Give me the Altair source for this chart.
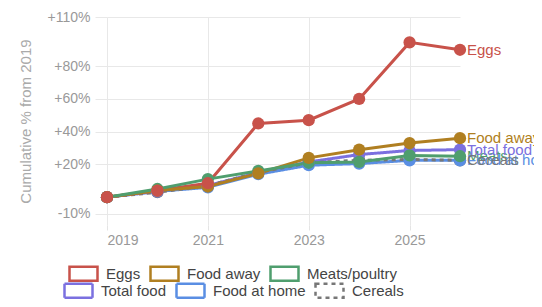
import altair as alt
import pandas as pd

years = [2019, 2020, 2021, 2022, 2023, 2024, 2025, 2026]
series = ["Eggs", "Food away", "Meats/poultry", "Total food", "Food at home", "Cereals"]
labels = ["Eggs", "Food away", "Meats", "Total food", "Food at home", "Cereals"]
colors = ["#c8524a", "#b07f21", "#4f9e6e", "#7b70e0", "#5a8ee3", "#777777"]
dashes = [[1, 0], [1, 0], [1, 0], [1, 0], [1, 0], [4, 4]]

eggs = [0, 4, 8.5, 45, 47, 60, 94.5, 90]
food_away = [0, 4, 6.5, 14.5, 24, 29, 33, 36]
meats = [0, 5, 11, 16, 21, 21.5, 25.5, 25]
total_food = [0, 3.5, 7, 15, 21.5, 26, 28.5, 29]
food_home = [0, 3.5, 6, 14, 19.5, 20.5, 22.5, 22.5]
cereals = [0, 3, 7, 15, 21, 22.5, 23, 22.5]

values = [eggs, food_away, meats, total_food, food_home, cereals]

rows = []
for i, (s, lab, vals) in enumerate(zip(series, labels, values)):
    for y, v in zip(years, vals):
        rows.append({"series": s, "key": s, "label": lab, "year": y, "value": v,
                     "order": len(series) - i, "torder": i})
df = pd.DataFrame(rows)
last = df[df["year"] == 2026].copy()
row1 = series[:3]
row2 = series[3:]
df1 = df[df["series"].isin(row1)]
df2 = df[df["series"].isin(row2)]

yticks = [-10, 20, 40, 60, 80, 110]

x = alt.X("year:Q", scale=alt.Scale(domain=[2019, 2026], nice=False),
          axis=alt.Axis(values=[2019, 2021, 2023, 2025], format="d", title=None,
                        domain=False, tickSize=5, tickColor="#e4e4e4", gridColor="#e8e8e8",
                        labelColor="#999999", labelFontSize=14, labelPadding=3))
y = alt.Y("value:Q", scale=alt.Scale(domain=[-17, 110], nice=False, zero=False),
          axis=alt.Axis(values=yticks, title="Cumulative % from 2019",
                        labelExpr="datum.value > 0 ? '+' + datum.value + '%' : datum.value + '%'",
                        domain=False, tickSize=12, tickColor="#e8e8e8", gridColor="#e8e8e8",
                        labelColor="#999999", labelFontSize=14, labelPadding=5,
                        titleColor="#aaaaaa", titleFontSize=15, titleFontWeight="normal",
                        titlePadding=14))

# same mapping, different domain order so the hidden fill legend is not merged
fill_scale = alt.Scale(domain=series[::-1], range=colors[::-1])


def make_legend(lx, ly):
    return alt.Legend(title=None, orient="none", legendX=lx, legendY=ly,
                      direction="horizontal",
                      symbolType="M-2,-1H2V1H-2Z", symbolSize=196,
                      symbolStrokeWidth=2.5, symbolFillColor="transparent",
                      labelFontSize=15, labelColor="#444444", labelOffset=14,
                      columnPadding=4, padding=0)


leg1 = make_legend(-32, 248)
leg2 = make_legend(-37, 265)

lines1 = alt.Chart(df1).mark_line(strokeWidth=3).encode(
    x=x, y=y,
    color=alt.Color("series:N", scale=alt.Scale(domain=row1, range=colors[:3]), legend=leg1),
    detail="series:N",
    order=alt.Order("year:Q"),
)

lines2 = alt.Chart(df2).mark_line(strokeWidth=3).encode(
    x=x, y=y,
    stroke=alt.Stroke("series:N", scale=alt.Scale(domain=row2, range=colors[3:]), legend=leg2),
    strokeDash=alt.StrokeDash("series:N", scale=alt.Scale(domain=row2, range=dashes[3:]), legend=leg2),
    detail="series:N",
    order=alt.Order("year:Q"),
)

points = alt.Chart(df).mark_circle(size=150, opacity=1).encode(
    x=x, y=y,
    fill=alt.Fill("key:N", scale=fill_scale, legend=None),
    order=alt.Order("order:Q"),
)

texts = alt.Chart(last).mark_text(align="left", dx=7, fontSize=15, baseline="middle").encode(
    x=x, y=y,
    text="label:N",
    fill=alt.Fill("key:N", scale=fill_scale, legend=None),
    order=alt.Order("torder:Q"),
)

chart = alt.layer(lines2, lines1, points, texts).properties(
    width=353, height=208,
    autosize=alt.AutoSizeParams(type="none"),
    padding={"left": 99, "top": 9, "right": 74, "bottom": 74},
).configure(font="Liberation Sans").configure_view(stroke=None)

chart.save("out.html", embed_options={"renderer": "svg", "actions": False})
